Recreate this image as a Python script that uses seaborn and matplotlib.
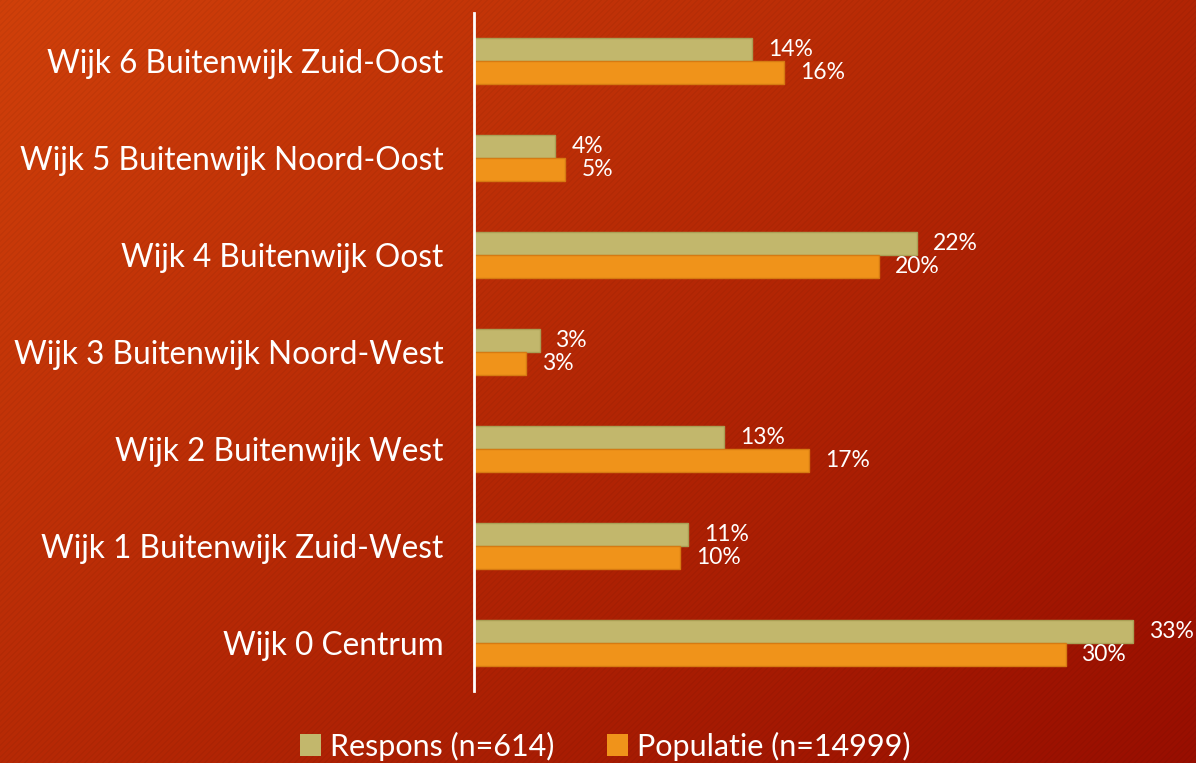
import numpy as np
import pandas as pd
import matplotlib
matplotlib.use("Agg")
import matplotlib.pyplot as plt
import seaborn as sns
from matplotlib.patches import Patch

categories = ["Wijk 6 Buitenwijk Zuid-Oost", "Wijk 5 Buitenwijk Noord-Oost",
              "Wijk 4 Buitenwijk Oost", "Wijk 3 Buitenwijk Noord-West",
              "Wijk 2 Buitenwijk West", "Wijk 1 Buitenwijk Zuid-West",
              "Wijk 0 Centrum"]
respons = [14.0, 4.1, 22.3, 3.3, 12.6, 10.8, 33.2]
populatie = [15.6, 4.6, 20.4, 2.6, 16.9, 10.4, 29.8]
series_names = ["Respons (n=614)", "Populatie (n=14999)"]

df = pd.DataFrame({
    "Wijk": categories * 2,
    "Waarde": respons + populatie,
    "Reeks": [series_names[0]] * len(categories) + [series_names[1]] * len(categories),
})

sns.set_theme(style="white")
plt.rcParams['font.family'] = ['Lato', 'DejaVu Sans']

W, H = 1196, 763
fig = plt.figure(figsize=(W / 100, H / 100), dpi=100)

# background gradient with faint diagonal stripes
bg = fig.add_axes([0, 0, 1, 1], zorder=-10)
yy, xx = np.mgrid[0:H, 0:W]
t = (xx / W * 0.55 + yy / H * 0.45)
c0 = np.array([208, 64, 10]) / 255.0
c1 = np.array([152, 14, 0]) / 255.0
img = c0[None, None, :] * (1 - t[..., None]) + c1[None, None, :] * t[..., None]
stripes = ((xx + yy) % 6 < 2).astype(float)
img = img * (1 - 0.04 * stripes[..., None])
bg.imshow(np.clip(img, 0, 1), aspect="auto", extent=[0, 1, 0, 1])
bg.axis("off")

ax = fig.add_axes([474 / W, 1 - 691 / H, (W - 474) / W, (691 - 13) / H])
ax.patch.set_alpha(0)

palette = {series_names[0]: "#C2B76C", series_names[1]: "#F0931A"}
edges = {series_names[0]: "#A99F55", series_names[1]: "#D67A12"}
sns.barplot(data=df, y="Wijk", x="Waarde", hue="Reeks", order=categories,
            hue_order=series_names, palette=palette, width=0.475,
            orient="h", ax=ax, legend=False, saturation=1)

for container, name in zip(ax.containers, series_names):
    for bar in container:
        bar.set_edgecolor(edges[name])
        bar.set_linewidth(1.0)
    labels = [f"{round(v)}%" for v in container.datavalues]
    ax.bar_label(container, labels=labels, padding=11.5, color="white",
                 fontsize=16.5, clip_on=False)

ax.set_xlim(0, (W - 474) / 19.85)
ax.set_ylim(len(categories) - 0.5, -0.5)
ax.set_xlabel("")
ax.set_ylabel("")
ax.set_xticks([])
ax.tick_params(axis="y", length=0, pad=22, labelsize=22.8, labelcolor="white")
for s in ["top", "right", "bottom"]:
    ax.spines[s].set_visible(False)
ax.spines["left"].set_color("white")
ax.spines["left"].set_linewidth(2)

handles = [Patch(facecolor=palette[n], edgecolor="none") for n in series_names]
leg = fig.legend(handles, series_names, loc="center", bbox_to_anchor=(0.506, 1 - 746 / H),
                 ncol=2, frameon=False, fontsize=22, handlelength=0.7,
                 handleheight=0.7, handletextpad=0.3, columnspacing=1.7)
for txt in leg.get_texts():
    txt.set_color("white")

fig.savefig("out.png", dpi=100)
